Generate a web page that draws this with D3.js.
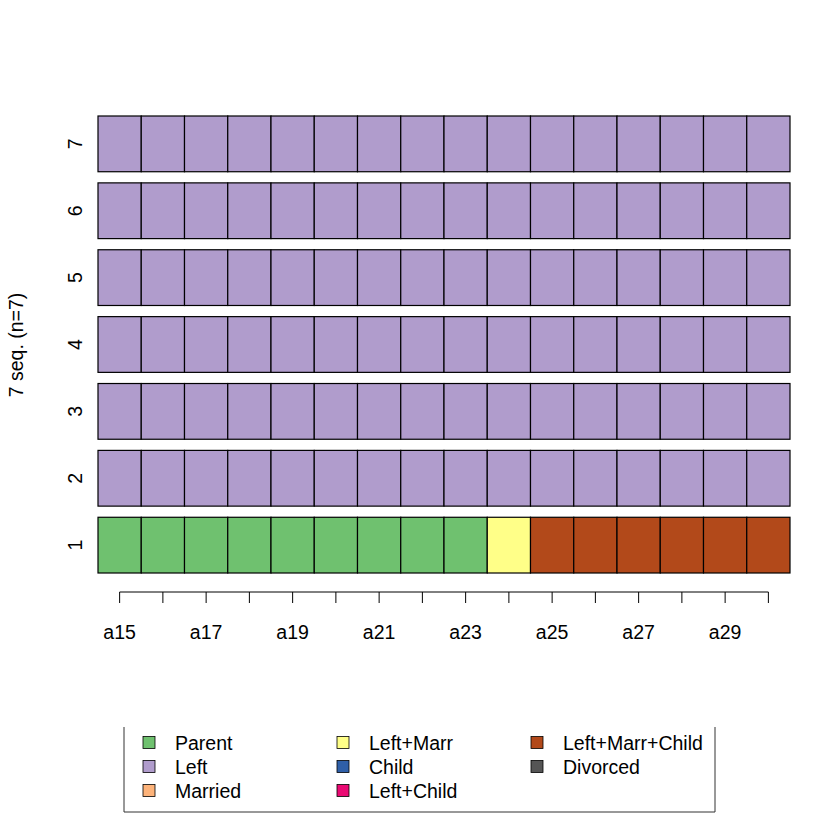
<!DOCTYPE html>
<html><head><meta charset="utf-8">
<script src="https://cdn.jsdelivr.net/npm/d3@7"></script>
<style>body{margin:0;background:#fff}svg{display:block;font-family:"Liberation Sans",Arial,sans-serif}</style>
</head><body><svg id="c" width="840" height="840"></svg>
<script>
const positions = ["a15","a16","a17","a18","a19","a20","a21","a22","a23","a24","a25","a26","a27","a28","a29","a30"];
const tickLabels = ["a15","a17","a19","a21","a23","a25","a27","a29"];
const seqIds = ["1","2","3","4","5","6","7"];
const states = ["Parent","Left","Married","Left+Marr","Child","Left+Child","Left+Marr+Child","Divorced"];
const stateColors = ["#6fc16f","#b09ccc","#fdb37a","#ffff88","#2f5fa8","#ea0a73","#b2491a","#555555"];
const seq1 = ["Parent","Parent","Parent","Parent","Parent","Parent","Parent","Parent","Parent","Left+Marr","Left+Marr+Child","Left+Marr+Child","Left+Marr+Child","Left+Marr+Child","Left+Marr+Child","Left+Marr+Child"];
const seq2 = ["Left","Left","Left","Left","Left","Left","Left","Left","Left","Left","Left","Left","Left","Left","Left","Left"];
const seq3 = seq2.slice(), seq4 = seq2.slice(), seq5 = seq2.slice(), seq6 = seq2.slice(), seq7 = seq2.slice();
const sequences = [seq1,seq2,seq3,seq4,seq5,seq6,seq7];

const FS = 19.5;
const svg = d3.select("#c");
const color = d3.scaleOrdinal().domain(states).range(stateColors);
const x = d3.scaleBand().domain(positions).range([98,790]).padding(0);
const y = d3.scaleBand().domain(seqIds.slice().reverse()).range([116,573]).paddingInner(0.2/1.2).paddingOuter(0);

sequences.forEach((s,i)=>{
  svg.append("g").selectAll("rect").data(s).join("rect")
    .attr("x",(d,j)=>x(positions[j]))
    .attr("y",y(seqIds[i]))
    .attr("width",x.bandwidth())
    .attr("height",y.bandwidth())
    .attr("fill",d=>color(d))
    .attr("stroke","#000").attr("stroke-width",1.2);
});

const xc = d=>x(d)+x.bandwidth()/2;
const ax = svg.append("g");
ax.append("line").attr("x1",xc(positions[0])).attr("x2",xc(positions[positions.length-1]))
  .attr("y1",592).attr("y2",592).attr("stroke","#000");
ax.selectAll("line.t").data(positions).join("line").attr("class","t")
  .attr("x1",xc).attr("x2",xc).attr("y1",592).attr("y2",603).attr("stroke","#000");
ax.selectAll("text").data(tickLabels).join("text")
  .attr("x",xc).attr("y",639).attr("text-anchor","middle").attr("font-size",FS).text(d=>d);

svg.selectAll("text.yl").data(seqIds).join("text").attr("class","yl")
  .attr("transform",d=>`translate(82,${y(d)+y.bandwidth()/2}) rotate(-90)`)
  .attr("text-anchor","middle").attr("font-size",FS).text(d=>d);
svg.append("text").attr("transform","translate(23,345) rotate(-90)")
  .attr("text-anchor","middle").attr("font-size",FS).text("7 seq. (n=7)");

const lg = svg.append("g");
lg.append("path").attr("d","M124,727V812H715V727").attr("fill","none").attr("stroke","#333").attr("stroke-width",1);
const colX = [143,337,531];
const rowY = [742.5,766.5,790.5];
states.forEach((s,i)=>{
  const c = Math.floor(i/3), r = i%3;
  const cx = colX[c], cy = rowY[r];
  lg.append("rect").attr("x",cx).attr("y",cy-6).attr("width",12).attr("height",12)
    .attr("fill",color(s)).attr("stroke","#000").attr("stroke-width",0.8);
  lg.append("text").attr("x",cx+32).attr("y",cy+7).attr("font-size",FS).text(s);
});
</script></body></html>
